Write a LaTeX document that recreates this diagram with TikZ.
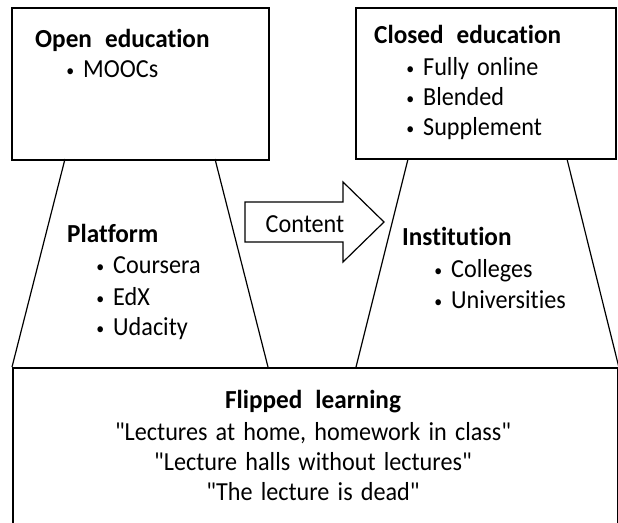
\documentclass[tikz,border=0pt]{standalone}
\usepackage{fontspec}
\setmainfont{Carlito}[FakeStretch=0.93, WordSpace=1.5, Ligatures={TeXOff,CommonOff},
  BoldFeatures={FakeStretch=0.97, WordSpace=2.3, Ligatures={TeXOff,CommonOff}}]
\usepackage{tikz}

\newcommand{\itm}{\makebox[0pt][c]{\fontsize{17}{17}\selectfont\raisebox{1pt}{•}}\hspace{13pt}}

\begin{document}
\begin{tikzpicture}[x=1pt, y=-1pt,
    box/.style={draw, line width=1.8pt, inner sep=0pt, anchor=north west},
    side/.style={line width=1.2pt},
    txt/.style={anchor=base west, inner sep=0pt, font=\fontsize{26}{30}\selectfont},
    ctxt/.style={anchor=base, inner sep=0pt, font=\fontsize{26}{30}\selectfont}]
      \path [use as bounding box, clip] (0,0) rectangle (618,522);
      % the three boxes
      \node [box, minimum width=257pt, minimum height=152pt] (open) at (11,7) {};
      \node [box, minimum width=260pt, minimum height=151pt] (closed) at (355,7) {};
      \node [box, minimum width=605pt, minimum height=200pt] (flipped) at (12,367) {};
      % sides of the two funnels
      \coordinate (pA) at (65,159);
      \coordinate (pB) at (215,159);
      \coordinate (pC) at (268,367);
      \coordinate (iA) at (408,159);
      \coordinate (iB) at (567,159);
      \coordinate (iC) at (356,367);
      \draw [side] (pA) -- (flipped.north west);
      \draw [side] (pB) -- (pC);
      \draw [side] (iA) -- (iC);
      \draw [side] (iB) -- (flipped.north east);
      % content arrow
      \draw [line width=1.2pt, line join=miter] (245,202) -- (343,202) -- (343,182) -- (384,222)
            -- (343,262) -- (343,242) -- (245,242) -- cycle;
      \node [ctxt] (content) at (305,232) {Content};
      % open education
      \node [txt] (openT) at (35,47) {\textbf{Open education}};
      \node [txt] (mooc) at (70,77) {\itm MOOCs};
      % closed education
      \node [txt] (closedT) at (374,43) {\textbf{Closed education}};
      \node [txt] (online) at (410,75) {\itm Fully online};
      \node [txt] (blend) at (410,105) {\itm Blended};
      \node [txt] (suppl) at (410,135) {\itm Supplement};
      % platform
      \node [txt] (platT) at (67,242) {\textbf{Platform}};
      \node [txt] (cours) at (100,273) {\itm Coursera};
      \node [txt] (edx) at (100,305) {\itm EdX};
      \node [txt] (udac) at (100,335) {\itm Udacity};
      % institution
      \node [txt] (instT) at (402,245) {\textbf{Institution}};
      \node [txt] (coll) at (438,277) {\itm Colleges};
      \node [txt] (univ) at (438,308) {\itm Universities};
      % flipped learning
      \node [ctxt] (flipT) at (313,408) {\textbf{Flipped learning}};
      \node [ctxt] (quoteA) at (313,440) {"Lectures at home, homework in class"};
      \node [ctxt] (quoteB) at (313,470) {"Lecture halls without lectures"};
      \node [ctxt] (quoteC) at (313,500) {"The lecture is dead"};
    \end{tikzpicture}
\end{document}
